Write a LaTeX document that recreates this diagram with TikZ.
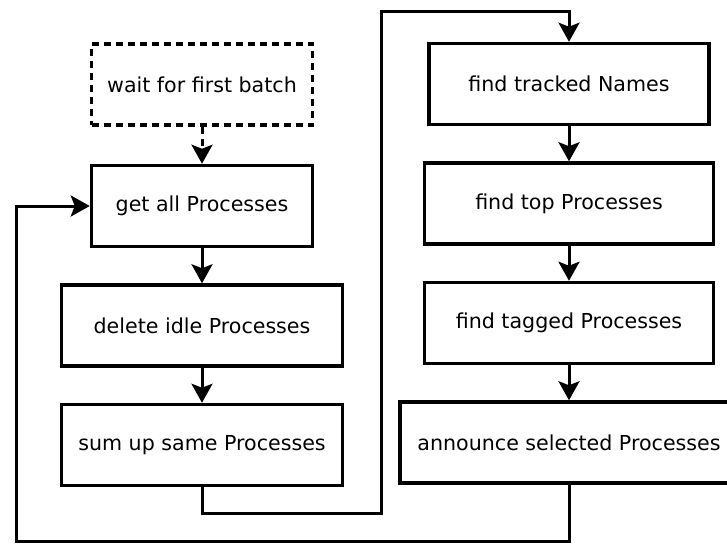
\documentclass[tikz,border=0pt]{standalone}
\usepackage{fontspec}
\setmainfont{DejaVu Sans}
\usepackage{tikz}
\usetikzlibrary{positioning, arrows.meta}

\begin{document}
\begin{tikzpicture}[
    node distance=35pt,
    proc/.style={rectangle, draw=black, line width=3.5pt, minimum height=81pt, align=center, font=\fontsize{20.6}{24}\selectfont},
    waitbox/.style={proc, dash pattern=on 7pt off 5pt},
    flow/.style={-{Stealth[length=19pt, width=21pt, inset=4pt]}, line width=3pt}
]
\useasboundingbox (0pt,0pt) rectangle (727pt,-543pt);

\node[waitbox, minimum width=221pt] (wait) at (202pt,-84.5pt) {wait for first batch};
\node[proc, minimum width=221pt, below=37pt of wait] (getall) {get all Processes};
\node[proc, minimum width=281pt, below=of getall] (delidle) {delete idle Processes};
\node[proc, minimum width=281pt, below=of delidle] (sumup) {sum up same Processes};

\node[proc, minimum width=280pt] (tracked) at (569pt,-84pt) {find tracked Names};
\node[proc, minimum width=289pt, below=of tracked] (topproc) {find top Processes};
\node[proc, minimum width=289pt, below=of topproc] (tagged) {find tagged Processes};
\node[proc, minimum width=338pt, below=of tagged] (announce) {announce selected Processes};

\coordinate (sumlow) at (381pt,-513pt);
\coordinate (sumtop) at (381pt,-12pt);
\coordinate (outer) at (16pt,-541pt);

\draw[flow, dash pattern=on 7pt off 5pt] (wait) -- (getall);
\draw[flow] (getall) -- (delidle);
\draw[flow] (delidle) -- (sumup);
\draw[flow] (sumup.south) |- (sumlow) -- (sumtop) -| (tracked.north);
\draw[flow] (tracked) -- (topproc);
\draw[flow] (topproc) -- (tagged);
\draw[flow] (tagged) -- (announce);
\draw[flow] (announce.south) |- (outer) |- (getall.west);
\end{tikzpicture}
\end{document}
